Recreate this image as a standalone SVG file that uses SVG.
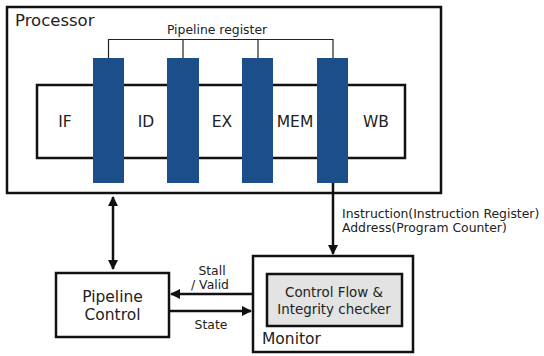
<svg xmlns="http://www.w3.org/2000/svg" width="544" height="356" viewBox="0 0 544 356">
<style>
text{font-family:"DejaVu Sans",Verdana,sans-serif;fill:#222}
.box{fill:#fff;stroke:#111;stroke-width:2.5}
.bar{fill:#1c4f8a}
.wire{stroke:#222;stroke-width:1.2;fill:none}
.conn{stroke:#111;stroke-width:2.5;fill:none}
.big{font-size:15.5px}
.small{font-size:12.4px}
</style>
<defs>
<marker id="ah" viewBox="0 0 10 10" refX="9" refY="5" markerWidth="4" markerHeight="4" orient="auto-start-reverse">
<path d="M0,0 L10,5 L0,10 z" fill="#111"/>
</marker>
</defs>
<rect width="544" height="356" fill="#fff"/>
<g id="processor">
<rect class="box" x="7" y="7" width="434" height="186"/>
<text x="15" y="26" font-size="16.5">Processor</text>
<rect class="box" x="37" y="85" width="368" height="73"/>
<text class="big" x="65" y="127" text-anchor="middle">IF</text>
<text class="big" x="146" y="127" text-anchor="middle">ID</text>
<text class="big" x="222" y="127" text-anchor="middle">EX</text>
<text class="big" x="295" y="127" text-anchor="middle">MEM</text>
<text class="big" x="376" y="127" text-anchor="middle">WB</text>
<g id="pipeline-register">
<path class="wire" d="M108.5,58 V39.5 H333 V58 M183,39.5 V58 M258,39.5 V58"/>
<text class="small" x="217" y="34" text-anchor="middle">Pipeline register</text>
<rect class="bar" x="93" y="58" width="31" height="125"/>
<rect class="bar" x="167" y="58" width="32" height="125"/>
<rect class="bar" x="242" y="58" width="31" height="125"/>
<rect class="bar" x="317" y="58" width="31" height="125"/>
</g>
</g>
<g id="pipeline-control">
<rect class="box" x="56" y="273" width="113" height="64"/>
<text class="big" x="112.5" y="302" text-anchor="middle">Pipeline</text>
<text class="big" x="112.5" y="320" text-anchor="middle">Control</text>
</g>
<g id="monitor">
<rect class="box" x="253" y="256" width="160" height="96"/>
<rect x="267" y="274" width="135" height="52" fill="#e3e3e3" stroke="#111" stroke-width="2.5"/>
<text x="334" y="297" text-anchor="middle" font-size="13.4">Control Flow &amp;</text>
<text x="334" y="314" text-anchor="middle" font-size="13.4">Integrity checker</text>
<text class="big" x="262" y="344">Monitor</text>
</g>
<g id="connectors">
<path class="conn" d="M113,197 V269" marker-start="url(#ah)" marker-end="url(#ah)"/>
<path class="conn" d="M333,183 V254" marker-end="url(#ah)"/>
<path class="conn" d="M253,294 H171" marker-end="url(#ah)"/>
<path class="conn" d="M169,311 H251" marker-end="url(#ah)"/>
<text class="small" x="342" y="218">Instruction(Instruction Register)</text>
<text class="small" x="342" y="232">Address(Program Counter)</text>
<text class="small" x="212" y="275" text-anchor="middle">Stall</text>
<text class="small" x="210" y="289" text-anchor="middle">/ Valid</text>
<text class="small" x="211" y="329" text-anchor="middle">State</text>
</g>
</svg>
